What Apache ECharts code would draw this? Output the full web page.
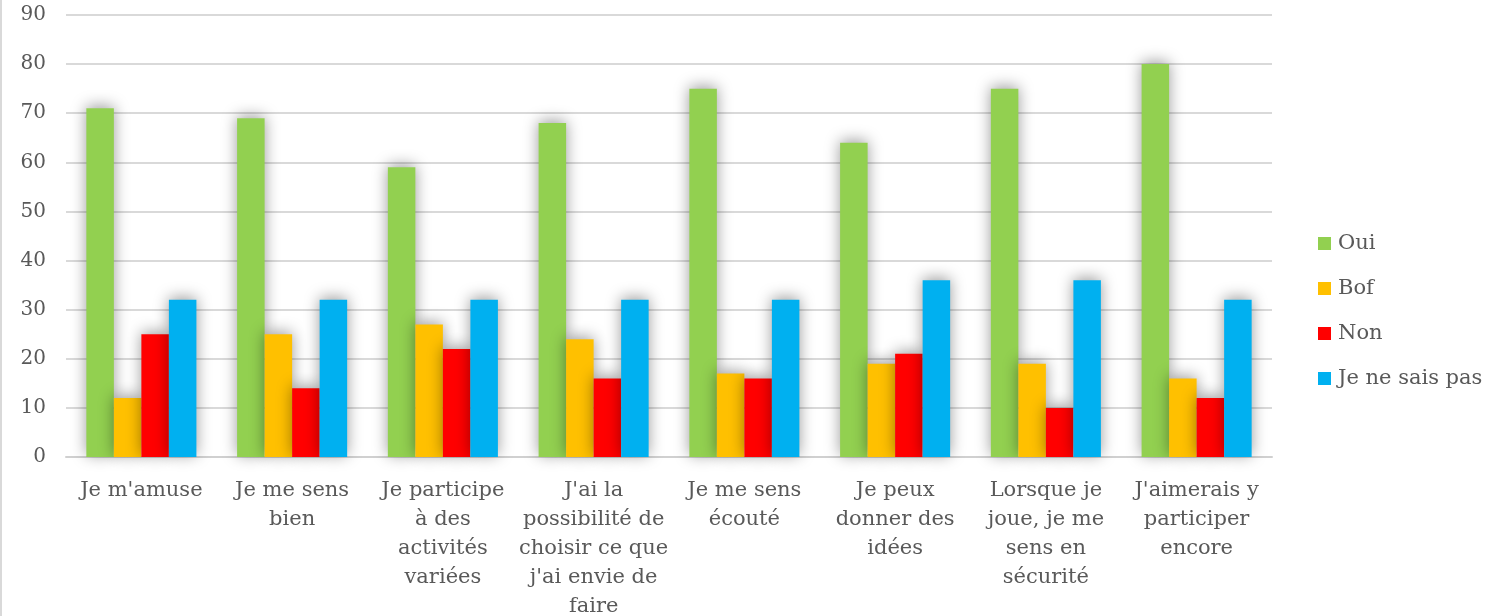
<!DOCTYPE html>
<html>
<head>
<meta charset="utf-8">
<script src="https://cdn.jsdelivr.net/npm/echarts@6/dist/echarts.min.js"></script>
<style>
  html, body { margin: 0; padding: 0; background: #fff; }
  #chart { width: 1504px; height: 616px; box-sizing: border-box; border-left: 2px solid #d9d9d9; }
</style>
</head>
<body>
<div id="chart"></div>
<script>
// Survey answers per statement
const categories = [
  "Je m'amuse",
  "Je me sens\nbien",
  "Je participe\nà des\nactivités\nvariées",
  "J'ai la\npossibilité de\nchoisir ce que\nj'ai envie de\nfaire",
  "Je me sens\nécouté",
  "Je peux\ndonner des\nidées",
  "Lorsque je\njoue, je me\nsens en\nsécurité",
  "J'aimerais y\nparticiper\nencore"
];
const seriesNames = ["Oui", "Bof", "Non", "Je ne sais pas"];
const oui = [71, 69, 59, 68, 75, 64, 75, 80];
const bof = [12, 25, 27, 24, 17, 19, 19, 16];
const non = [25, 14, 22, 16, 16, 21, 10, 12];
const nsp = [32, 32, 32, 32, 32, 36, 36, 32];
const colors = ["#92D050", "#FFC000", "#FF0000", "#00B0F0"];
const yTicks = [0, 10, 20, 30, 40, 50, 60, 70, 80, 90];

const FONT = "DejaVu Serif";
const TEXT = "#595959";

const chart = echarts.init(document.getElementById('chart'));
const values = [oui, bof, non, nsp];

chart.setOption({
  animation: false,
  textStyle: { fontFamily: FONT },
  grid: { left: 64, right: 232, top: 15, bottom: 159, outerBoundsMode: 'none', containLabel: false },
  legend: {
    orient: 'vertical',
    left: 1311,
    top: 228,
    icon: 'rect',
    itemWidth: 13,
    itemHeight: 13,
    itemGap: 24,
    textStyle: { fontFamily: FONT, fontSize: 21, color: TEXT, padding: [0, 0, 0, 2] },
    data: seriesNames
  },
  xAxis: {
    type: 'category',
    data: categories,
    axisTick: { show: false },
    axisLine: { lineStyle: { color: '#d0d0d0', width: 2 } },
    axisLabel: {
      interval: 0,
      fontFamily: FONT,
      fontSize: 21,
      color: TEXT,
      lineHeight: 29,
      margin: 19
    }
  },
  yAxis: {
    type: 'value',
    min: yTicks[0],
    max: yTicks[yTicks.length - 1],
    interval: 10,
    axisLine: { show: false },
    axisTick: { show: false },
    splitLine: { lineStyle: { color: '#d9d9d9', width: 2 } },
    axisLabel: { fontFamily: FONT, fontSize: 20, color: TEXT, margin: 20 }
  },
  series: seriesNames.map((name, i) => ({
    name: name,
    type: 'bar',
    data: values[i],
    barGap: '0%',
    barCategoryGap: '27%',
    itemStyle: {
      color: colors[i],
      shadowBlur: 15,
      shadowColor: 'rgba(0,0,0,0.4)',
      shadowOffsetX: 0,
      shadowOffsetY: -2
    }
  }))
});
</script>
</body>
</html>
